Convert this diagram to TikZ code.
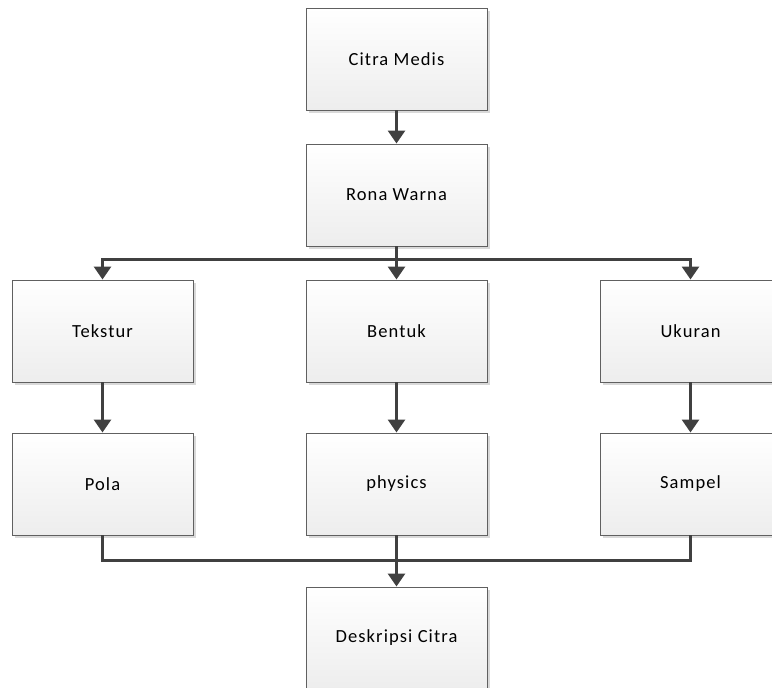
\documentclass[tikz,border=0pt]{standalone}
\usepackage{fontspec}
\setmainfont{Carlito}
\newfontfamily\boxfont[LetterSpace=6]{Carlito}
\usetikzlibrary{arrows.meta,shadows}
\definecolor{linec}{RGB}{64,64,64}
\definecolor{borderc}{RGB}{96,96,96}
\begin{document}
\begin{tikzpicture}[x=1pt,y=-1pt,
  box/.style={rectangle, draw=borderc, line width=0.9pt, top color=white, bottom color=black!7,
    minimum width=181pt, minimum height=102pt, inner sep=0pt, outer sep=0pt,
    font=\boxfont\fontsize{18.5}{21}\selectfont,
    general shadow={fill=black!15, shadow xshift=3pt, shadow yshift=-3pt}},
  link/.style={draw=linec, line width=3pt},
  conn/.style={link, -{Triangle[length=13pt,width=17pt]}, shorten >=0.5pt}]
\useasboundingbox (0,0) rectangle (772,688);
\clip (0,0) rectangle (772,688);
\node[box] (cm) at (396.5,59) {Citra Medis};
\node[box] (rw) at (396.5,195) {Rona Warna};
\node[box] (tek) at (102.5,331) {Tekstur};
\node[box] (ben) at (396.5,331) {Bentuk};
\node[box] (uku) at (690.5,331) {Ukuran};
\node[box] (pol) at (102.5,484) {Pola};
\node[box] (phy) at (396.5,484) {physics};
\node[box] (sam) at (690.5,484) {Sampel};
\node[box] (des) at (396.5,638) {Deskripsi Citra};
\coordinate (split) at (396.5,259);
\coordinate (merge) at (396.5,560.5);
\draw[conn] (cm) -- (rw);
\draw[link] (rw.south) -- (split);
\draw[conn] (split) -- (ben.north);
\draw[conn] (split) -| (tek.north);
\draw[conn] (split) -| (uku.north);
\draw[conn] (tek) -- (pol);
\draw[conn] (ben) -- (phy);
\draw[conn] (uku) -- (sam);
\draw[link] (pol.south) |- (merge);
\draw[link] (sam.south) |- (merge);
\draw[conn] (phy) -- (des);
\end{tikzpicture}
\end{document}
